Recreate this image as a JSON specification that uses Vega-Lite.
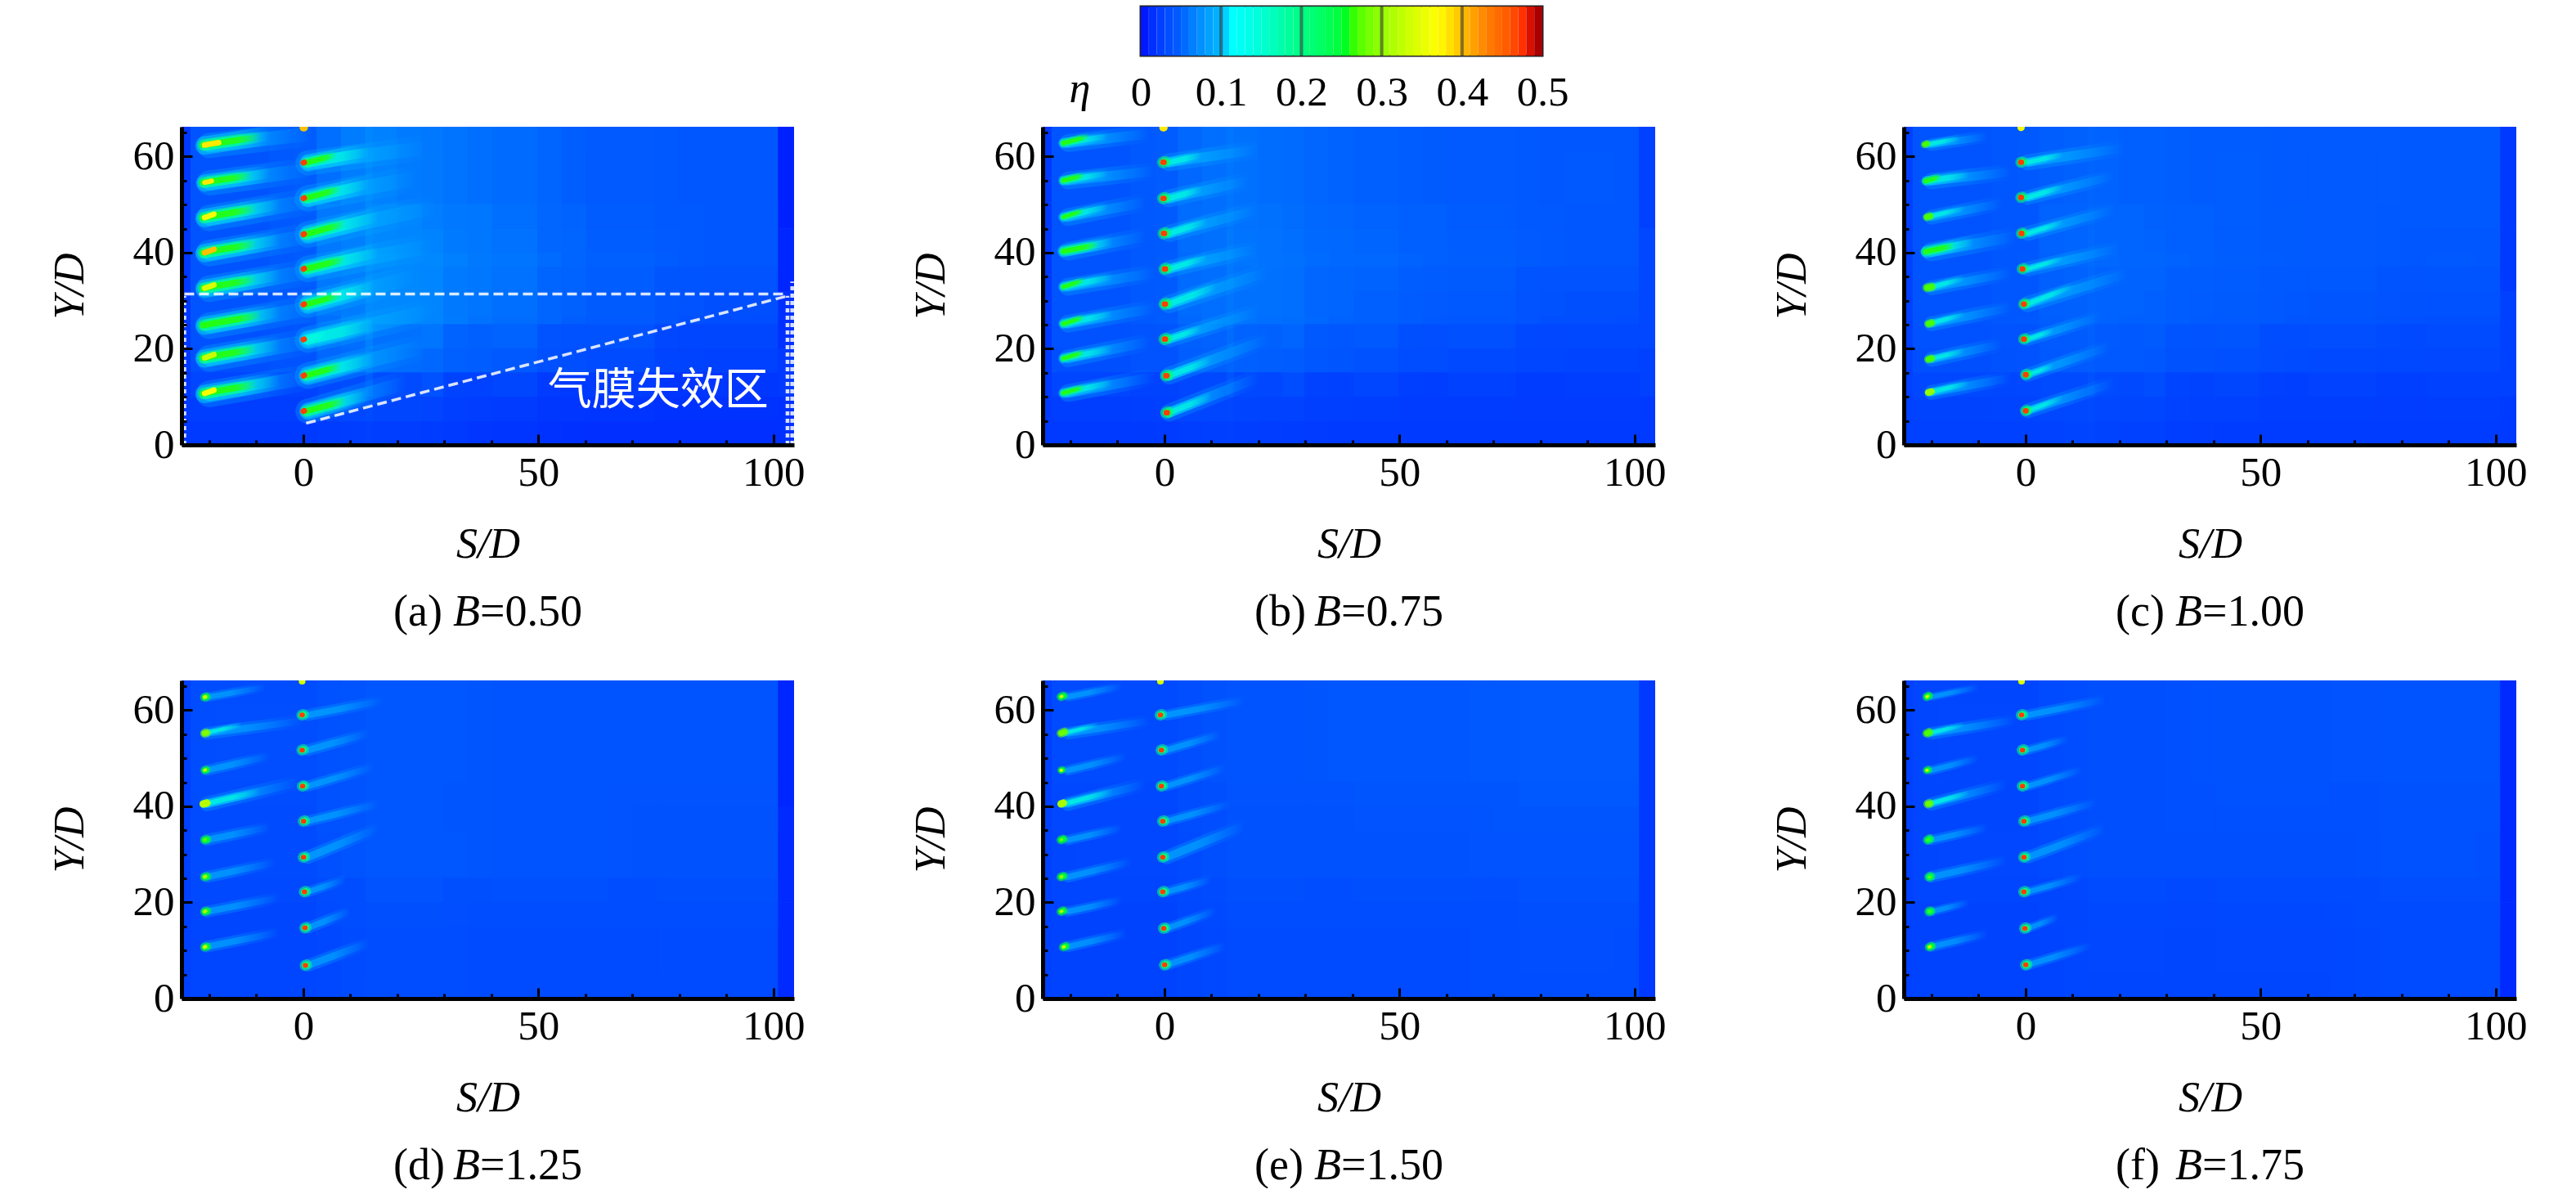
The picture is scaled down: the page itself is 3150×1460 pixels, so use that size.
{
"$schema":"https://vega.github.io/schema/vega-lite/v6.json",
"background":"white",
"padding":{"left":59,"top":4,"right":0,"bottom":0},
"config":{"font":"Liberation Serif","view":{"stroke":null},"axis":{"labelFont":"Liberation Serif","titleFont":"Liberation Serif"}},
"bounds":"flush",
"spacing":147,
"vconcat":[
{"hconcat":[
{"width":1173,"height":10,"data":{"values":[]},"mark":"rect"},
{"width":491,"height":60,"view":{"stroke":"#222222","strokeWidth":3},
"layer":[
{"data":{"values":[
{"a":0,"b":0.01,"e":0.005},{"a":0.01,"b":0.02,"e":0.015},{"a":0.02,"b":0.03,"e":0.025},{"a":0.03,"b":0.04,"e":0.035},{"a":0.04,"b":0.05,"e":0.045},
{"a":0.05,"b":0.06,"e":0.055},{"a":0.06,"b":0.07,"e":0.065},{"a":0.07,"b":0.08,"e":0.075},{"a":0.08,"b":0.09,"e":0.085},{"a":0.09,"b":0.1,"e":0.095},
{"a":0.1,"b":0.11,"e":0.105},{"a":0.11,"b":0.12,"e":0.115},{"a":0.12,"b":0.13,"e":0.125},{"a":0.13,"b":0.14,"e":0.135},{"a":0.14,"b":0.15,"e":0.145},
{"a":0.15,"b":0.16,"e":0.155},{"a":0.16,"b":0.17,"e":0.165},{"a":0.17,"b":0.18,"e":0.175},{"a":0.18,"b":0.19,"e":0.185},{"a":0.19,"b":0.2,"e":0.195},
{"a":0.2,"b":0.21,"e":0.205},{"a":0.21,"b":0.22,"e":0.215},{"a":0.22,"b":0.23,"e":0.225},{"a":0.23,"b":0.24,"e":0.235},{"a":0.24,"b":0.25,"e":0.245},
{"a":0.25,"b":0.26,"e":0.255},{"a":0.26,"b":0.27,"e":0.265},{"a":0.27,"b":0.28,"e":0.275},{"a":0.28,"b":0.29,"e":0.285},{"a":0.29,"b":0.3,"e":0.295},
{"a":0.3,"b":0.31,"e":0.305},{"a":0.31,"b":0.32,"e":0.315},{"a":0.32,"b":0.33,"e":0.325},{"a":0.33,"b":0.34,"e":0.335},{"a":0.34,"b":0.35,"e":0.345},
{"a":0.35,"b":0.36,"e":0.355},{"a":0.36,"b":0.37,"e":0.365},{"a":0.37,"b":0.38,"e":0.375},{"a":0.38,"b":0.39,"e":0.385},{"a":0.39,"b":0.4,"e":0.395},
{"a":0.4,"b":0.41,"e":0.405},{"a":0.41,"b":0.42,"e":0.415},{"a":0.42,"b":0.43,"e":0.425},{"a":0.43,"b":0.44,"e":0.435},{"a":0.44,"b":0.45,"e":0.445},
{"a":0.45,"b":0.46,"e":0.455},{"a":0.46,"b":0.47,"e":0.465},{"a":0.47,"b":0.48,"e":0.475},{"a":0.48,"b":0.49,"e":0.485},{"a":0.49,"b":0.5,"e":0.495}
]},
"mark":{"type":"rect","stroke":null},
"encoding":{
"x":{"field":"a","type":"quantitative","scale":{"domain":[0,0.5],"nice":false},
"axis":{"values":[0,0.1,0.2,0.3,0.4,0.5],"format":".1~f","domain":false,"ticks":false,"grid":false,"labelFontSize":51,"labelColor":"black","labelPadding":20,"labelFlush":false,"labelOverlap":false,"labelBound":false,"title":"η","titleFontSize":52,"titleFontStyle":"italic","titleFontWeight":"normal","titleColor":"black","titleX":-75,"titleY":56,"titleBaseline":"alphabetic","titleAlign":"center"}},
"x2":{"field":"b"},
"color":{"field":"e","type":"quantitative","legend":null,"scale":{"domain":[0,0.05,0.1,0.115,0.19,0.26,0.37,0.43,0.48,0.49,0.5],"range":["#0000ff","#0060ff","#00b8ff","#00ffff","#00ff90","#00ff00","#ffff00","#ff8000","#ff2000","#b00000","#a00000"]}}
}},
{"data":{"values":[{"a":0.1},{"a":0.2},{"a":0.3},{"a":0.4}]},
"mark":{"type":"rule","color":"#333333","opacity":0.6,"strokeWidth":4},
"encoding":{"x":{"field":"a","type":"quantitative"}}}
]}
],"spacing":0,"bounds":"flush"},
{"data":{"values":[
{"p":"a","t":"(a)","v":"=0.50"},{"p":"b","t":"(b)","v":"=0.75"},{"p":"c","t":"(c)","v":"=1.00"},{"p":"d","t":"(d)","v":"=1.25"},{"p":"e","t":"(e)","v":"=1.50"},{"p":"f","t":"(f)","v":"=1.75"},
{"p":"a","n":"气膜失效区","s":75.5,"y":11},
{"p":"a","d":1,"s":-25.3,"y":31.4,"s2":103,"y2":31.4},
{"p":"a","d":1,"s":0.6,"y":4.5,"s2":103,"y2":31},
{"p":"a","d":2,"s":-25.3,"y":0,"s2":-25.3,"y2":31},
{"p":"a","d":2,"s":103,"y":0,"s2":103,"y2":31},
{"p":"a","d":2,"s":104,"y":0,"s2":104,"y2":34},

{"p":"a","s":-26,"s2":-24,"y":45,"y2":66.2,"e":0.02},{"p":"a","s":-24,"s2":-2,"y":45,"y2":66.2,"e":0.04},{"p":"a","s":-2,"s2":8,"y":45,"y2":66.2,"e":0.05},{"p":"a","s":8,"s2":20,"y":45,"y2":66.2,"e":0.07},{"p":"a","s":20,"s2":35,"y":45,"y2":66.2,"e":0.062},{"p":"a","s":35,"s2":55,"y":45,"y2":66.2,"e":0.055},{"p":"a","s":55,"s2":80,"y":45,"y2":66.2,"e":0.045},{"p":"a","s":80,"s2":101,"y":45,"y2":66.2,"e":0.042},{"p":"a","s":101,"s2":104.4,"y":45,"y2":66.2,"e":0.008},
{"p":"a","s":-26,"s2":-24,"y":32,"y2":45,"e":0.02},{"p":"a","s":-24,"s2":-2,"y":32,"y2":45,"e":0.04},{"p":"a","s":-2,"s2":8,"y":32,"y2":45,"e":0.05},{"p":"a","s":8,"s2":20,"y":32,"y2":45,"e":0.075},{"p":"a","s":20,"s2":35,"y":32,"y2":45,"e":0.07},{"p":"a","s":35,"s2":55,"y":32,"y2":45,"e":0.06},{"p":"a","s":55,"s2":80,"y":32,"y2":45,"e":0.05},{"p":"a","s":80,"s2":101,"y":32,"y2":45,"e":0.042},{"p":"a","s":101,"s2":104.4,"y":32,"y2":45,"e":0.01},
{"p":"a","s":-26,"s2":-24,"y":20,"y2":32,"e":0.02},{"p":"a","s":-24,"s2":-2,"y":20,"y2":32,"e":0.04},{"p":"a","s":-2,"s2":8,"y":20,"y2":32,"e":0.05},{"p":"a","s":8,"s2":20,"y":20,"y2":32,"e":0.072},{"p":"a","s":20,"s2":35,"y":20,"y2":32,"e":0.068},{"p":"a","s":35,"s2":55,"y":20,"y2":32,"e":0.056},{"p":"a","s":55,"s2":80,"y":20,"y2":32,"e":0.045},{"p":"a","s":80,"s2":101,"y":20,"y2":32,"e":0.035},{"p":"a","s":101,"s2":104.4,"y":20,"y2":32,"e":0.015},
{"p":"a","s":-26,"s2":-24,"y":10,"y2":20,"e":0.02},{"p":"a","s":-24,"s2":-2,"y":10,"y2":20,"e":0.035},{"p":"a","s":-2,"s2":8,"y":10,"y2":20,"e":0.04},{"p":"a","s":8,"s2":20,"y":10,"y2":20,"e":0.058},{"p":"a","s":20,"s2":35,"y":10,"y2":20,"e":0.05},{"p":"a","s":35,"s2":55,"y":10,"y2":20,"e":0.038},{"p":"a","s":55,"s2":80,"y":10,"y2":20,"e":0.028},{"p":"a","s":80,"s2":101,"y":10,"y2":20,"e":0.022},{"p":"a","s":101,"s2":104.4,"y":10,"y2":20,"e":0.02},
{"p":"a","s":-26,"s2":-24,"y":0,"y2":10,"e":0.02},{"p":"a","s":-24,"s2":-2,"y":0,"y2":10,"e":0.02},{"p":"a","s":-2,"s2":8,"y":0,"y2":10,"e":0.02},{"p":"a","s":8,"s2":20,"y":0,"y2":10,"e":0.025},{"p":"a","s":20,"s2":35,"y":0,"y2":10,"e":0.022},{"p":"a","s":35,"s2":55,"y":0,"y2":10,"e":0.018},{"p":"a","s":55,"s2":80,"y":0,"y2":10,"e":0.015},{"p":"a","s":80,"s2":101,"y":0,"y2":10,"e":0.015},{"p":"a","s":101,"s2":104.4,"y":0,"y2":10,"e":0.015},

{"p":"b","s":-26,"s2":-24,"y":45,"y2":66.2,"e":0.02},{"p":"b","s":-24,"s2":-2,"y":45,"y2":66.2,"e":0.04},{"p":"b","s":-2,"s2":8,"y":45,"y2":66.2,"e":0.05},{"p":"b","s":8,"s2":20,"y":45,"y2":66.2,"e":0.06},{"p":"b","s":20,"s2":35,"y":45,"y2":66.2,"e":0.055},{"p":"b","s":35,"s2":55,"y":45,"y2":66.2,"e":0.05},{"p":"b","s":55,"s2":80,"y":45,"y2":66.2,"e":0.045},{"p":"b","s":80,"s2":101,"y":45,"y2":66.2,"e":0.043},{"p":"b","s":101,"s2":104.4,"y":45,"y2":66.2,"e":0.025},
{"p":"b","s":-26,"s2":-24,"y":32,"y2":45,"e":0.02},{"p":"b","s":-24,"s2":-2,"y":32,"y2":45,"e":0.04},{"p":"b","s":-2,"s2":8,"y":32,"y2":45,"e":0.05},{"p":"b","s":8,"s2":20,"y":32,"y2":45,"e":0.063},{"p":"b","s":20,"s2":35,"y":32,"y2":45,"e":0.058},{"p":"b","s":35,"s2":55,"y":32,"y2":45,"e":0.053},{"p":"b","s":55,"s2":80,"y":32,"y2":45,"e":0.048},{"p":"b","s":80,"s2":101,"y":32,"y2":45,"e":0.042},{"p":"b","s":101,"s2":104.4,"y":32,"y2":45,"e":0.03},
{"p":"b","s":-26,"s2":-24,"y":20,"y2":32,"e":0.02},{"p":"b","s":-24,"s2":-2,"y":20,"y2":32,"e":0.04},{"p":"b","s":-2,"s2":8,"y":20,"y2":32,"e":0.05},{"p":"b","s":8,"s2":20,"y":20,"y2":32,"e":0.06},{"p":"b","s":20,"s2":35,"y":20,"y2":32,"e":0.056},{"p":"b","s":35,"s2":55,"y":20,"y2":32,"e":0.05},{"p":"b","s":55,"s2":80,"y":20,"y2":32,"e":0.042},{"p":"b","s":80,"s2":101,"y":20,"y2":32,"e":0.035},{"p":"b","s":101,"s2":104.4,"y":20,"y2":32,"e":0.03},
{"p":"b","s":-26,"s2":-24,"y":10,"y2":20,"e":0.02},{"p":"b","s":-24,"s2":-2,"y":10,"y2":20,"e":0.035},{"p":"b","s":-2,"s2":8,"y":10,"y2":20,"e":0.04},{"p":"b","s":8,"s2":20,"y":10,"y2":20,"e":0.05},{"p":"b","s":20,"s2":35,"y":10,"y2":20,"e":0.043},{"p":"b","s":35,"s2":55,"y":10,"y2":20,"e":0.035},{"p":"b","s":55,"s2":80,"y":10,"y2":20,"e":0.028},{"p":"b","s":80,"s2":101,"y":10,"y2":20,"e":0.026},{"p":"b","s":101,"s2":104.4,"y":10,"y2":20,"e":0.025},
{"p":"b","s":-26,"s2":-24,"y":0,"y2":10,"e":0.02},{"p":"b","s":-24,"s2":-2,"y":0,"y2":10,"e":0.02},{"p":"b","s":-2,"s2":8,"y":0,"y2":10,"e":0.022},{"p":"b","s":8,"s2":20,"y":0,"y2":10,"e":0.025},{"p":"b","s":20,"s2":35,"y":0,"y2":10,"e":0.022},{"p":"b","s":35,"s2":55,"y":0,"y2":10,"e":0.02},{"p":"b","s":55,"s2":80,"y":0,"y2":10,"e":0.02},{"p":"b","s":80,"s2":101,"y":0,"y2":10,"e":0.02},{"p":"b","s":101,"s2":104.4,"y":0,"y2":10,"e":0.02},

{"p":"c","s":-26,"s2":-24,"y":45,"y2":66.2,"e":0.025},{"p":"c","s":-24,"s2":-2,"y":45,"y2":66.2,"e":0.04},{"p":"c","s":-2,"s2":8,"y":45,"y2":66.2,"e":0.045},{"p":"c","s":8,"s2":20,"y":45,"y2":66.2,"e":0.052},{"p":"c","s":20,"s2":35,"y":45,"y2":66.2,"e":0.05},{"p":"c","s":35,"s2":55,"y":45,"y2":66.2,"e":0.047},{"p":"c","s":55,"s2":80,"y":45,"y2":66.2,"e":0.045},{"p":"c","s":80,"s2":101,"y":45,"y2":66.2,"e":0.044},{"p":"c","s":101,"s2":104.4,"y":45,"y2":66.2,"e":0.02},
{"p":"c","s":-26,"s2":-24,"y":32,"y2":45,"e":0.025},{"p":"c","s":-24,"s2":-2,"y":32,"y2":45,"e":0.04},{"p":"c","s":-2,"s2":8,"y":32,"y2":45,"e":0.045},{"p":"c","s":8,"s2":20,"y":32,"y2":45,"e":0.055},{"p":"c","s":20,"s2":35,"y":32,"y2":45,"e":0.052},{"p":"c","s":35,"s2":55,"y":32,"y2":45,"e":0.048},{"p":"c","s":55,"s2":80,"y":32,"y2":45,"e":0.045},{"p":"c","s":80,"s2":101,"y":32,"y2":45,"e":0.043},{"p":"c","s":101,"s2":104.4,"y":32,"y2":45,"e":0.02},
{"p":"c","s":-26,"s2":-24,"y":20,"y2":32,"e":0.025},{"p":"c","s":-24,"s2":-2,"y":20,"y2":32,"e":0.04},{"p":"c","s":-2,"s2":8,"y":20,"y2":32,"e":0.045},{"p":"c","s":8,"s2":20,"y":20,"y2":32,"e":0.052},{"p":"c","s":20,"s2":35,"y":20,"y2":32,"e":0.05},{"p":"c","s":35,"s2":55,"y":20,"y2":32,"e":0.045},{"p":"c","s":55,"s2":80,"y":20,"y2":32,"e":0.04},{"p":"c","s":80,"s2":101,"y":20,"y2":32,"e":0.036},{"p":"c","s":101,"s2":104.4,"y":20,"y2":32,"e":0.025},
{"p":"c","s":-26,"s2":-24,"y":10,"y2":20,"e":0.025},{"p":"c","s":-24,"s2":-2,"y":10,"y2":20,"e":0.035},{"p":"c","s":-2,"s2":8,"y":10,"y2":20,"e":0.04},{"p":"c","s":8,"s2":20,"y":10,"y2":20,"e":0.045},{"p":"c","s":20,"s2":35,"y":10,"y2":20,"e":0.04},{"p":"c","s":35,"s2":55,"y":10,"y2":20,"e":0.035},{"p":"c","s":55,"s2":80,"y":10,"y2":20,"e":0.03},{"p":"c","s":80,"s2":101,"y":10,"y2":20,"e":0.028},{"p":"c","s":101,"s2":104.4,"y":10,"y2":20,"e":0.025},
{"p":"c","s":-26,"s2":-24,"y":0,"y2":10,"e":0.025},{"p":"c","s":-24,"s2":-2,"y":0,"y2":10,"e":0.025},{"p":"c","s":-2,"s2":8,"y":0,"y2":10,"e":0.025},{"p":"c","s":8,"s2":20,"y":0,"y2":10,"e":0.028},{"p":"c","s":20,"s2":35,"y":0,"y2":10,"e":0.025},{"p":"c","s":35,"s2":55,"y":0,"y2":10,"e":0.022},{"p":"c","s":55,"s2":80,"y":0,"y2":10,"e":0.022},{"p":"c","s":80,"s2":101,"y":0,"y2":10,"e":0.022},{"p":"c","s":101,"s2":104.4,"y":0,"y2":10,"e":0.02},

{"p":"d","s":-26,"s2":-24,"y":40,"y2":66.2,"e":0.025},{"p":"d","s":-24,"s2":8,"y":40,"y2":66.2,"e":0.035},{"p":"d","s":8,"s2":35,"y":40,"y2":66.2,"e":0.042},{"p":"d","s":35,"s2":70,"y":40,"y2":66.2,"e":0.04},{"p":"d","s":70,"s2":101,"y":40,"y2":66.2,"e":0.04},{"p":"d","s":101,"s2":104.4,"y":40,"y2":66.2,"e":0.01},
{"p":"d","s":-26,"s2":-24,"y":20,"y2":40,"e":0.025},{"p":"d","s":-24,"s2":8,"y":20,"y2":40,"e":0.033},{"p":"d","s":8,"s2":35,"y":20,"y2":40,"e":0.042},{"p":"d","s":35,"s2":70,"y":20,"y2":40,"e":0.04},{"p":"d","s":70,"s2":101,"y":20,"y2":40,"e":0.038},{"p":"d","s":101,"s2":104.4,"y":20,"y2":40,"e":0.012},
{"p":"d","s":-26,"s2":-24,"y":0,"y2":20,"e":0.025},{"p":"d","s":-24,"s2":8,"y":0,"y2":20,"e":0.028},{"p":"d","s":8,"s2":35,"y":0,"y2":20,"e":0.034},{"p":"d","s":35,"s2":70,"y":0,"y2":20,"e":0.032},{"p":"d","s":70,"s2":101,"y":0,"y2":20,"e":0.032},{"p":"d","s":101,"s2":104.4,"y":0,"y2":20,"e":0.012},

{"p":"e","s":-26,"s2":-24,"y":40,"y2":66.2,"e":0.025},{"p":"e","s":-24,"s2":8,"y":40,"y2":66.2,"e":0.032},{"p":"e","s":8,"s2":35,"y":40,"y2":66.2,"e":0.04},{"p":"e","s":35,"s2":70,"y":40,"y2":66.2,"e":0.042},{"p":"e","s":70,"s2":101,"y":40,"y2":66.2,"e":0.045},{"p":"e","s":101,"s2":104.4,"y":40,"y2":66.2,"e":0.02},
{"p":"e","s":-26,"s2":-24,"y":20,"y2":40,"e":0.025},{"p":"e","s":-24,"s2":8,"y":20,"y2":40,"e":0.03},{"p":"e","s":8,"s2":35,"y":20,"y2":40,"e":0.038},{"p":"e","s":35,"s2":70,"y":20,"y2":40,"e":0.038},{"p":"e","s":70,"s2":101,"y":20,"y2":40,"e":0.04},{"p":"e","s":101,"s2":104.4,"y":20,"y2":40,"e":0.02},
{"p":"e","s":-26,"s2":-24,"y":0,"y2":20,"e":0.025},{"p":"e","s":-24,"s2":8,"y":0,"y2":20,"e":0.027},{"p":"e","s":8,"s2":35,"y":0,"y2":20,"e":0.032},{"p":"e","s":35,"s2":70,"y":0,"y2":20,"e":0.033},{"p":"e","s":70,"s2":101,"y":0,"y2":20,"e":0.035},{"p":"e","s":101,"s2":104.4,"y":0,"y2":20,"e":0.02},

{"p":"f","s":-26,"s2":-24,"y":40,"y2":66.2,"e":0.025},{"p":"f","s":-24,"s2":8,"y":40,"y2":66.2,"e":0.03},{"p":"f","s":8,"s2":35,"y":40,"y2":66.2,"e":0.036},{"p":"f","s":35,"s2":70,"y":40,"y2":66.2,"e":0.038},{"p":"f","s":70,"s2":101,"y":40,"y2":66.2,"e":0.04},{"p":"f","s":101,"s2":104.4,"y":40,"y2":66.2,"e":0.012},
{"p":"f","s":-26,"s2":-24,"y":20,"y2":40,"e":0.025},{"p":"f","s":-24,"s2":8,"y":20,"y2":40,"e":0.03},{"p":"f","s":8,"s2":35,"y":20,"y2":40,"e":0.036},{"p":"f","s":35,"s2":70,"y":20,"y2":40,"e":0.036},{"p":"f","s":70,"s2":101,"y":20,"y2":40,"e":0.037},{"p":"f","s":101,"s2":104.4,"y":20,"y2":40,"e":0.012},
{"p":"f","s":-26,"s2":-24,"y":0,"y2":20,"e":0.025},{"p":"f","s":-24,"s2":8,"y":0,"y2":20,"e":0.027},{"p":"f","s":8,"s2":35,"y":0,"y2":20,"e":0.03},{"p":"f","s":35,"s2":70,"y":0,"y2":20,"e":0.03},{"p":"f","s":70,"s2":101,"y":0,"y2":20,"e":0.032},{"p":"f","s":101,"s2":104.4,"y":0,"y2":20,"e":0.012},

{"p":"a","s":-20,"y":10.6,"s2":3,"y2":14.4,"e":0.085,"w":3.6},{"p":"a","s":-21,"y":10.6,"s2":-5,"y2":13.4,"e":0.125,"w":2.8},{"p":"a","s":-21.3,"y":10.7,"s2":-10,"y2":12.6,"e":0.25,"w":1.9},{"p":"a","s":-21,"y":10.7,"s2":-19,"y2":11.4,"e":0.37,"w":0.9},
{"p":"a","s":-20,"y":18,"s2":3,"y2":21.8,"e":0.085,"w":3.6},{"p":"a","s":-21,"y":18,"s2":-5,"y2":20.8,"e":0.125,"w":2.8},{"p":"a","s":-21.3,"y":18.1,"s2":-10,"y2":20,"e":0.25,"w":1.9},{"p":"a","s":-21,"y":18.1,"s2":-19,"y2":18.8,"e":0.33,"w":0.9},
{"p":"a","s":-20,"y":24.8,"s2":3,"y2":28.6,"e":0.085,"w":3.6},{"p":"a","s":-21,"y":24.8,"s2":-5,"y2":27.6,"e":0.125,"w":2.8},{"p":"a","s":-21.3,"y":24.9,"s2":-9,"y2":27,"e":0.24,"w":1.9},
{"p":"a","s":-20,"y":32.5,"s2":3,"y2":36.3,"e":0.085,"w":3.6},{"p":"a","s":-21,"y":32.5,"s2":-5,"y2":35.3,"e":0.125,"w":2.8},{"p":"a","s":-21.3,"y":32.6,"s2":-10,"y2":34.5,"e":0.25,"w":1.9},{"p":"a","s":-21,"y":32.6,"s2":-19,"y2":33.3,"e":0.34,"w":0.9},
{"p":"a","s":-20,"y":39.9,"s2":3,"y2":43.7,"e":0.085,"w":3.6},{"p":"a","s":-21,"y":39.9,"s2":-5,"y2":42.7,"e":0.125,"w":2.8},{"p":"a","s":-21.3,"y":40,"s2":-10,"y2":41.9,"e":0.25,"w":1.9},{"p":"a","s":-21,"y":40,"s2":-19,"y2":40.7,"e":0.4,"w":0.9},
{"p":"a","s":-20,"y":47.2,"s2":3,"y2":51,"e":0.085,"w":3.6},{"p":"a","s":-21,"y":47.2,"s2":-5,"y2":50,"e":0.125,"w":2.8},{"p":"a","s":-21.3,"y":47.3,"s2":-10,"y2":49.2,"e":0.25,"w":1.9},{"p":"a","s":-21,"y":47.3,"s2":-19,"y2":48,"e":0.36,"w":0.9},
{"p":"a","s":-20,"y":54.5,"s2":2,"y2":57.3,"e":0.085,"w":3.4},{"p":"a","s":-21,"y":54.5,"s2":-7,"y2":56.5,"e":0.125,"w":2.6},{"p":"a","s":-21.3,"y":54.6,"s2":-11,"y2":56.1,"e":0.24,"w":1.8},{"p":"a","s":-21,"y":54.6,"s2":-19.5,"y2":54.9,"e":0.38,"w":0.8},
{"p":"a","s":-20,"y":62.3,"s2":2,"y2":64.8,"e":0.085,"w":3.4},{"p":"a","s":-21,"y":62.3,"s2":-7,"y2":64.4,"e":0.125,"w":2.8},{"p":"a","s":-21.3,"y":62.4,"s2":-9,"y2":64.1,"e":0.26,"w":1.9},{"p":"a","s":-21,"y":62.4,"s2":-18,"y2":62.9,"e":0.38,"w":0.9},
{"p":"a","s":1,"y":7,"s2":22,"y2":13,"e":0.085,"w":3.4},{"p":"a","s":1,"y":7,"s2":14,"y2":10.5,"e":0.125,"w":2.6},{"p":"a","s":0.5,"y":7,"s2":9,"y2":9.2,"e":0.2,"w":1.8},{"p":"a","s":0,"y":7,"s2":0.2,"y2":7.1,"e":0.47,"w":0.9},
{"p":"a","s":1,"y":14.4,"s2":26,"y2":20.5,"e":0.085,"w":3.6},{"p":"a","s":1,"y":14.4,"s2":15,"y2":17.9,"e":0.115,"w":2.8},{"p":"a","s":0.5,"y":14.4,"s2":8,"y2":16.4,"e":0.2,"w":1.7},{"p":"a","s":0,"y":14.4,"s2":0.2,"y2":14.5,"e":0.47,"w":0.9},
{"p":"a","s":1,"y":21.9,"s2":28,"y2":28,"e":0.085,"w":3.6},{"p":"a","s":1,"y":21.9,"s2":15,"y2":25.1,"e":0.11,"w":2.8},{"p":"a","s":0.5,"y":21.9,"s2":5,"y2":23.1,"e":0.18,"w":1.4},{"p":"a","s":0,"y":21.9,"s2":0.2,"y2":22,"e":0.47,"w":0.9},
{"p":"a","s":1,"y":29.2,"s2":24,"y2":35,"e":0.085,"w":3.6},{"p":"a","s":1,"y":29.2,"s2":15,"y2":32.9,"e":0.125,"w":2.8},{"p":"a","s":0.5,"y":29.2,"s2":8,"y2":31.2,"e":0.22,"w":1.7},{"p":"a","s":0,"y":29.2,"s2":0.2,"y2":29.3,"e":0.47,"w":0.9},
{"p":"a","s":1,"y":36.6,"s2":28,"y2":41.5,"e":0.085,"w":3.6},{"p":"a","s":1,"y":36.6,"s2":16,"y2":40.1,"e":0.125,"w":2.8},{"p":"a","s":0.5,"y":36.6,"s2":9,"y2":38.7,"e":0.22,"w":1.8},{"p":"a","s":0,"y":36.6,"s2":0.2,"y2":36.7,"e":0.47,"w":0.9},
{"p":"a","s":1,"y":43.8,"s2":28,"y2":49.5,"e":0.085,"w":3.6},{"p":"a","s":1,"y":43.8,"s2":16,"y2":47.5,"e":0.125,"w":2.8},{"p":"a","s":0.5,"y":43.8,"s2":9,"y2":46.1,"e":0.22,"w":1.8},{"p":"a","s":0,"y":43.8,"s2":0.2,"y2":43.9,"e":0.47,"w":0.9},
{"p":"a","s":1,"y":51.3,"s2":24,"y2":55.5,"e":0.085,"w":3.6},{"p":"a","s":1,"y":51.3,"s2":14,"y2":54.3,"e":0.125,"w":2.7},{"p":"a","s":0.5,"y":51.3,"s2":8,"y2":53.3,"e":0.22,"w":1.7},{"p":"a","s":0,"y":51.3,"s2":0.2,"y2":51.4,"e":0.47,"w":0.9},
{"p":"a","s":1,"y":58.7,"s2":26,"y2":61.8,"e":0.085,"w":3.4},{"p":"a","s":1,"y":58.7,"s2":14,"y2":61,"e":0.125,"w":2.6},{"p":"a","s":0.5,"y":58.7,"s2":7,"y2":60.3,"e":0.22,"w":1.6},{"p":"a","s":0,"y":58.7,"s2":0.2,"y2":58.8,"e":0.47,"w":0.9},
{"p":"a","s":0,"y":66,"s2":0.2,"y2":66,"e":0.4,"w":1.2},

{"p":"b","s":-20.5,"y":10.8,"s2":-2,"y2":14.2,"e":0.08,"w":2.4},{"p":"b","s":-21.5,"y":10.8,"s2":-11,"y2":13,"e":0.125,"w":1.5},{"p":"b","s":-21.5,"y":10.8,"s2":-17,"y2":12,"e":0.26,"w":1.2},
{"p":"b","s":-20.5,"y":18,"s2":-3,"y2":21.5,"e":0.08,"w":2.4},{"p":"b","s":-21.5,"y":18,"s2":-11,"y2":20,"e":0.125,"w":1.5},{"p":"b","s":-21.5,"y":18,"s2":-17,"y2":19.3,"e":0.24,"w":1.2},
{"p":"b","s":-20.5,"y":25.2,"s2":-2,"y2":28.5,"e":0.08,"w":2.4},{"p":"b","s":-21.5,"y":25.2,"s2":-11,"y2":27.3,"e":0.125,"w":1.5},{"p":"b","s":-21.5,"y":25.2,"s2":-17,"y2":26.6,"e":0.24,"w":1.2},
{"p":"b","s":-20.5,"y":32.9,"s2":-2,"y2":35.8,"e":0.08,"w":2.4},{"p":"b","s":-21.5,"y":32.9,"s2":-11,"y2":35,"e":0.125,"w":1.5},{"p":"b","s":-21.5,"y":32.9,"s2":-17,"y2":34.3,"e":0.24,"w":1.2},
{"p":"b","s":-20.5,"y":40.3,"s2":-4,"y2":43.4,"e":0.09,"w":2.5},{"p":"b","s":-21.5,"y":40.3,"s2":-11,"y2":42.3,"e":0.14,"w":1.8},{"p":"b","s":-21.5,"y":40.3,"s2":-14,"y2":41.7,"e":0.28,"w":1.5},
{"p":"b","s":-20.5,"y":47.4,"s2":-4,"y2":50.5,"e":0.08,"w":2.4},{"p":"b","s":-21.5,"y":47.4,"s2":-12,"y2":49.6,"e":0.125,"w":1.5},{"p":"b","s":-21.5,"y":47.4,"s2":-17,"y2":48.8,"e":0.26,"w":1.1},
{"p":"b","s":-20.5,"y":55,"s2":-2,"y2":57,"e":0.085,"w":2.4},{"p":"b","s":-21.5,"y":55,"s2":-12,"y2":56.5,"e":0.125,"w":1.5},{"p":"b","s":-21.5,"y":55,"s2":-17,"y2":56.1,"e":0.26,"w":1.3},
{"p":"b","s":-20.5,"y":62.8,"s2":-3,"y2":64.8,"e":0.085,"w":2.4},{"p":"b","s":-21.5,"y":62.8,"s2":-12,"y2":64.2,"e":0.125,"w":1.5},{"p":"b","s":-21.5,"y":62.8,"s2":-16,"y2":64.2,"e":0.26,"w":1.3},
{"p":"b","s":1,"y":6.7,"s2":20,"y2":14,"e":0.08,"w":2.4},{"p":"b","s":1,"y":6.7,"s2":10,"y2":10.2,"e":0.125,"w":1.5},{"p":"b","s":0.4,"y":6.7,"s2":0.8,"y2":6.8,"e":0.22,"w":1.6},{"p":"b","s":0.4,"y":6.7,"s2":0.6,"y2":6.7,"e":0.47,"w":0.9},
{"p":"b","s":1,"y":14.4,"s2":22,"y2":22,"e":0.08,"w":2.4},{"p":"b","s":1,"y":14.4,"s2":10,"y2":17.7,"e":0.125,"w":1.5},{"p":"b","s":0.3,"y":14.4,"s2":0.7,"y2":14.5,"e":0.22,"w":1.6},{"p":"b","s":0.3,"y":14.4,"s2":0.5,"y2":14.4,"e":0.47,"w":0.9},
{"p":"b","s":1,"y":22,"s2":20,"y2":27.8,"e":0.08,"w":2.2},{"p":"b","s":1,"y":22,"s2":8,"y2":24.3,"e":0.115,"w":1.3},{"p":"b","s":0,"y":22,"s2":0.4,"y2":22.1,"e":0.22,"w":1.6},{"p":"b","s":0,"y":22,"s2":0.2,"y2":22,"e":0.47,"w":0.9},
{"p":"b","s":1,"y":29.3,"s2":22,"y2":36,"e":0.085,"w":2.5},{"p":"b","s":1,"y":29.3,"s2":11,"y2":33,"e":0.125,"w":1.6},{"p":"b","s":0,"y":29.3,"s2":0.4,"y2":29.4,"e":0.22,"w":1.6},{"p":"b","s":0,"y":29.3,"s2":0.2,"y2":29.3,"e":0.47,"w":0.9},
{"p":"b","s":1,"y":36.6,"s2":20,"y2":41,"e":0.08,"w":2.3},{"p":"b","s":1,"y":36.6,"s2":9,"y2":39,"e":0.125,"w":1.4},{"p":"b","s":0,"y":36.6,"s2":0.4,"y2":36.7,"e":0.22,"w":1.6},{"p":"b","s":0,"y":36.6,"s2":0.2,"y2":36.6,"e":0.47,"w":0.9},
{"p":"b","s":1,"y":44,"s2":20,"y2":49,"e":0.08,"w":2.3},{"p":"b","s":1,"y":44,"s2":9,"y2":46.5,"e":0.125,"w":1.5},{"p":"b","s":-0.2,"y":44,"s2":0.2,"y2":44.1,"e":0.22,"w":1.6},{"p":"b","s":-0.2,"y":44,"s2":0,"y2":44,"e":0.47,"w":0.9},
{"p":"b","s":1,"y":51.3,"s2":18,"y2":55,"e":0.08,"w":2.4},{"p":"b","s":1,"y":51.3,"s2":8,"y2":53.2,"e":0.13,"w":1.5},{"p":"b","s":-0.3,"y":51.3,"s2":0.1,"y2":51.4,"e":0.22,"w":1.6},{"p":"b","s":-0.3,"y":51.3,"s2":-0.1,"y2":51.3,"e":0.47,"w":0.9},
{"p":"b","s":1,"y":58.8,"s2":20,"y2":61.5,"e":0.08,"w":2.4},{"p":"b","s":1,"y":58.8,"s2":8,"y2":60.3,"e":0.125,"w":1.5},{"p":"b","s":-0.3,"y":58.8,"s2":0.1,"y2":58.9,"e":0.22,"w":1.6},{"p":"b","s":-0.3,"y":58.8,"s2":-0.1,"y2":58.8,"e":0.47,"w":0.9},
{"p":"b","s":-0.3,"y":66,"s2":-0.1,"y2":66,"e":0.38,"w":1.2},

{"p":"c","s":-20,"y":10.9,"s2":-3,"y2":14,"e":0.075,"w":2},{"p":"c","s":-20.5,"y":10.9,"s2":-12,"y2":12.9,"e":0.115,"w":1.2},{"p":"c","s":-20.7,"y":10.9,"s2":-20,"y2":11.1,"e":0.3,"w":1.1},
{"p":"c","s":-20,"y":17.8,"s2":-5,"y2":21,"e":0.07,"w":2},{"p":"c","s":-20.5,"y":17.8,"s2":-13,"y2":19.6,"e":0.105,"w":1.1},{"p":"c","s":-20.7,"y":17.8,"s2":-20,"y2":18,"e":0.27,"w":1.1},
{"p":"c","s":-20,"y":25.2,"s2":-3,"y2":28.6,"e":0.075,"w":2},{"p":"c","s":-20.5,"y":25.2,"s2":-13,"y2":27.2,"e":0.11,"w":1.1},{"p":"c","s":-20.7,"y":25.2,"s2":-20,"y2":25.4,"e":0.27,"w":1.1},
{"p":"c","s":-20,"y":32.7,"s2":-3,"y2":35.8,"e":0.075,"w":2},{"p":"c","s":-20.5,"y":32.7,"s2":-13,"y2":34.7,"e":0.11,"w":1.2},{"p":"c","s":-21,"y":32.7,"s2":-20,"y2":32.9,"e":0.27,"w":1.2},
{"p":"c","s":-20,"y":40.2,"s2":-2,"y2":43.4,"e":0.09,"w":2.6},{"p":"c","s":-21,"y":40.2,"s2":-11,"y2":42.3,"e":0.13,"w":1.9},{"p":"c","s":-21.3,"y":40.2,"s2":-15,"y2":41.5,"e":0.27,"w":1.5},
{"p":"c","s":-20,"y":47.4,"s2":-5,"y2":50.3,"e":0.07,"w":2},{"p":"c","s":-21,"y":47.4,"s2":-13,"y2":49.2,"e":0.115,"w":1.1},{"p":"c","s":-21,"y":47.4,"s2":-20.3,"y2":47.6,"e":0.27,"w":1.1},
{"p":"c","s":-20,"y":54.9,"s2":-3,"y2":56.8,"e":0.085,"w":2.2},{"p":"c","s":-21,"y":54.9,"s2":-12,"y2":56.2,"e":0.125,"w":1.5},{"p":"c","s":-21.3,"y":54.9,"s2":-18,"y2":55.8,"e":0.27,"w":1.3},
{"p":"c","s":-20,"y":62.5,"s2":-8,"y2":64.2,"e":0.075,"w":1.7},{"p":"c","s":-21,"y":62.5,"s2":-14,"y2":63.8,"e":0.115,"w":1.1},{"p":"c","s":-21.5,"y":62.5,"s2":-21,"y2":62.7,"e":0.27,"w":1},
{"p":"c","s":0.5,"y":7.1,"s2":19,"y2":13,"e":0.075,"w":2},{"p":"c","s":0.5,"y":7.1,"s2":8,"y2":9.8,"e":0.12,"w":1.1},{"p":"c","s":0,"y":7.1,"s2":0.3,"y2":7.2,"e":0.22,"w":1.5},{"p":"c","s":0,"y":7.1,"s2":0.1,"y2":7.1,"e":0.47,"w":0.9},
{"p":"c","s":0.5,"y":14.6,"s2":18,"y2":20.5,"e":0.07,"w":1.9},{"p":"c","s":0.5,"y":14.6,"s2":6,"y2":16.5,"e":0.105,"w":1},{"p":"c","s":0,"y":14.6,"s2":0.3,"y2":14.7,"e":0.22,"w":1.5},{"p":"c","s":0,"y":14.6,"s2":0.1,"y2":14.6,"e":0.47,"w":0.9},
{"p":"c","s":0.5,"y":22,"s2":16,"y2":26.7,"e":0.07,"w":1.8},{"p":"c","s":0.5,"y":22,"s2":6,"y2":23.8,"e":0.11,"w":1},{"p":"c","s":-0.4,"y":22,"s2":-0.1,"y2":22.1,"e":0.22,"w":1.5},{"p":"c","s":-0.4,"y":22,"s2":-0.3,"y2":22,"e":0.47,"w":0.9},
{"p":"c","s":0.5,"y":29.3,"s2":22,"y2":35.8,"e":0.08,"w":2.2},{"p":"c","s":0.5,"y":29.3,"s2":10,"y2":33,"e":0.125,"w":1.2},{"p":"c","s":-0.4,"y":29.3,"s2":-0.1,"y2":29.4,"e":0.22,"w":1.5},{"p":"c","s":-0.4,"y":29.3,"s2":-0.3,"y2":29.3,"e":0.47,"w":0.9},
{"p":"c","s":0.5,"y":36.6,"s2":20,"y2":41,"e":0.07,"w":2},{"p":"c","s":0.5,"y":36.6,"s2":8,"y2":38.8,"e":0.115,"w":1},{"p":"c","s":-0.7,"y":36.6,"s2":-0.4,"y2":36.7,"e":0.22,"w":1.5},{"p":"c","s":-0.7,"y":36.6,"s2":-0.6,"y2":36.6,"e":0.47,"w":0.9},
{"p":"c","s":0.5,"y":44,"s2":19,"y2":49,"e":0.07,"w":2},{"p":"c","s":0.5,"y":44,"s2":8,"y2":46.3,"e":0.115,"w":1.1},{"p":"c","s":-0.9,"y":44,"s2":-0.6,"y2":44.1,"e":0.22,"w":1.5},{"p":"c","s":-0.9,"y":44,"s2":-0.8,"y2":44,"e":0.47,"w":0.9},
{"p":"c","s":0.5,"y":51.5,"s2":19,"y2":56,"e":0.075,"w":2},{"p":"c","s":0.5,"y":51.5,"s2":8,"y2":53.7,"e":0.125,"w":1.2},{"p":"c","s":-1,"y":51.5,"s2":-0.7,"y2":51.6,"e":0.22,"w":1.5},{"p":"c","s":-1,"y":51.5,"s2":-0.9,"y2":51.5,"e":0.47,"w":0.9},
{"p":"c","s":0.5,"y":58.8,"s2":21,"y2":61.8,"e":0.08,"w":2.2},{"p":"c","s":0.5,"y":58.8,"s2":8,"y2":60.4,"e":0.13,"w":1.2},{"p":"c","s":-1,"y":58.8,"s2":-0.7,"y2":58.9,"e":0.22,"w":1.5},{"p":"c","s":-1,"y":58.8,"s2":-0.9,"y2":58.8,"e":0.47,"w":0.9},
{"p":"c","s":-1,"y":66,"s2":-0.9,"y2":66,"e":0.36,"w":1.1},

{"p":"d","s":-20.5,"y":10.8,"s2":-5,"y2":13.8,"e":0.072,"w":1.6},{"p":"d","s":-21,"y":10.7,"s2":-20.5,"y2":10.8,"e":0.25,"w":1.2},{"p":"d","s":-21,"y":10.7,"s2":-20.8,"y2":10.8,"e":0.33,"w":0.6},
{"p":"d","s":-20.5,"y":18.1,"s2":-5,"y2":21,"e":0.068,"w":1.6},{"p":"d","s":-21,"y":18.1,"s2":-20.5,"y2":18.2,"e":0.25,"w":1.2},{"p":"d","s":-21,"y":18.1,"s2":-20.8,"y2":18.2,"e":0.31,"w":0.6},
{"p":"d","s":-20.5,"y":25.3,"s2":-6,"y2":28.3,"e":0.078,"w":1.6},{"p":"d","s":-21,"y":25.3,"s2":-20.5,"y2":25.4,"e":0.25,"w":1.2},{"p":"d","s":-21,"y":25.3,"s2":-20.8,"y2":25.4,"e":0.31,"w":0.6},
{"p":"d","s":-20.5,"y":33,"s2":-7,"y2":35.7,"e":0.078,"w":1.6},{"p":"d","s":-21,"y":33,"s2":-20.5,"y2":33.1,"e":0.25,"w":1.2},{"p":"d","s":-21,"y":33,"s2":-20.8,"y2":33.1,"e":0.28,"w":0.6},
{"p":"d","s":-20.5,"y":40.5,"s2":-1,"y2":45,"e":0.09,"w":2},{"p":"d","s":-21,"y":40.5,"s2":-9,"y2":43.2,"e":0.14,"w":1.3},{"p":"d","s":-21.3,"y":40.5,"s2":-20.5,"y2":40.7,"e":0.32,"w":1.2},
{"p":"d","s":-20.5,"y":47.5,"s2":-7,"y2":50.5,"e":0.075,"w":1.5},{"p":"d","s":-21,"y":47.5,"s2":-20.6,"y2":47.6,"e":0.25,"w":1.1},{"p":"d","s":-21,"y":47.5,"s2":-20.8,"y2":47.6,"e":0.33,"w":0.5},
{"p":"d","s":-20.5,"y":55.2,"s2":0,"y2":57.8,"e":0.09,"w":1.7},{"p":"d","s":-21,"y":55.2,"s2":-13,"y2":57,"e":0.125,"w":1},{"p":"d","s":-21,"y":55.2,"s2":-20.6,"y2":55.3,"e":0.29,"w":1.2},
{"p":"d","s":-20.5,"y":62.7,"s2":-8,"y2":64.8,"e":0.085,"w":1.3},{"p":"d","s":-21,"y":62.7,"s2":-20.6,"y2":62.8,"e":0.25,"w":1.2},{"p":"d","s":-21,"y":62.7,"s2":-20.8,"y2":62.8,"e":0.33,"w":0.6},
{"p":"d","s":1,"y":6.9,"s2":14,"y2":11.6,"e":0.09,"w":1.7},{"p":"d","s":0.4,"y":6.9,"s2":0.7,"y2":7,"e":0.2,"w":1.5},{"p":"d","s":0.4,"y":6.9,"s2":0.5,"y2":6.9,"e":0.47,"w":0.8},
{"p":"d","s":1,"y":14.7,"s2":10,"y2":18.2,"e":0.075,"w":1.5},{"p":"d","s":0.3,"y":14.7,"s2":0.6,"y2":14.8,"e":0.2,"w":1.5},{"p":"d","s":0.3,"y":14.7,"s2":0.4,"y2":14.7,"e":0.47,"w":0.8},
{"p":"d","s":1,"y":22.2,"s2":9,"y2":24.8,"e":0.08,"w":1.4},{"p":"d","s":0.2,"y":22.2,"s2":0.5,"y2":22.3,"e":0.2,"w":1.5},{"p":"d","s":0.2,"y":22.2,"s2":0.3,"y2":22.2,"e":0.47,"w":0.8},
{"p":"d","s":1,"y":29.4,"s2":16,"y2":35.5,"e":0.095,"w":1.8},{"p":"d","s":0,"y":29.4,"s2":0.3,"y2":29.5,"e":0.2,"w":1.5},{"p":"d","s":0,"y":29.4,"s2":0.1,"y2":29.4,"e":0.47,"w":0.8},
{"p":"d","s":1,"y":36.9,"s2":16,"y2":40.5,"e":0.078,"w":1.5},{"p":"d","s":0,"y":36.9,"s2":0.3,"y2":37,"e":0.2,"w":1.5},{"p":"d","s":0,"y":36.9,"s2":0.1,"y2":36.9,"e":0.47,"w":0.8},
{"p":"d","s":1,"y":44.2,"s2":15,"y2":48.2,"e":0.078,"w":1.5},{"p":"d","s":-0.2,"y":44.2,"s2":0.1,"y2":44.3,"e":0.2,"w":1.5},{"p":"d","s":-0.2,"y":44.2,"s2":-0.1,"y2":44.2,"e":0.47,"w":0.8},
{"p":"d","s":1,"y":51.7,"s2":14,"y2":55.2,"e":0.085,"w":1.6},{"p":"d","s":-0.3,"y":51.7,"s2":0,"y2":51.8,"e":0.2,"w":1.5},{"p":"d","s":-0.3,"y":51.7,"s2":-0.2,"y2":51.7,"e":0.47,"w":0.8},
{"p":"d","s":1,"y":59,"s2":17,"y2":62,"e":0.09,"w":1.6},{"p":"d","s":-0.3,"y":59,"s2":0,"y2":59.1,"e":0.2,"w":1.5},{"p":"d","s":-0.3,"y":59,"s2":-0.2,"y2":59,"e":0.47,"w":0.8},
{"p":"d","s":-0.3,"y":66,"s2":-0.2,"y2":66,"e":0.34,"w":1},

{"p":"e","s":-20.5,"y":10.8,"s2":-8,"y2":13.6,"e":0.068,"w":1.5},{"p":"e","s":-21.5,"y":10.7,"s2":-21,"y2":10.9,"e":0.25,"w":1.2},{"p":"e","s":-21.5,"y":10.7,"s2":-21.3,"y2":10.8,"e":0.33,"w":0.5},
{"p":"e","s":-20.5,"y":18.1,"s2":-9,"y2":20.5,"e":0.062,"w":1.4},{"p":"e","s":-22,"y":18.1,"s2":-21.5,"y2":18.3,"e":0.25,"w":1.2},{"p":"e","s":-22,"y":18.1,"s2":-21.8,"y2":18.2,"e":0.32,"w":0.5},
{"p":"e","s":-20.5,"y":25.3,"s2":-7,"y2":28.5,"e":0.075,"w":1.5},{"p":"e","s":-22,"y":25.3,"s2":-21.5,"y2":25.5,"e":0.25,"w":1.2},{"p":"e","s":-22,"y":25.3,"s2":-21.8,"y2":25.4,"e":0.3,"w":0.5},
{"p":"e","s":-20.5,"y":33,"s2":-9,"y2":35.5,"e":0.072,"w":1.4},{"p":"e","s":-22,"y":33,"s2":-21.5,"y2":33.2,"e":0.25,"w":1.2},{"p":"e","s":-22,"y":33,"s2":-21.8,"y2":33.1,"e":0.29,"w":0.5},
{"p":"e","s":-20.5,"y":40.5,"s2":-4,"y2":44.7,"e":0.085,"w":1.9},{"p":"e","s":-21.5,"y":40.5,"s2":-11,"y2":43.1,"e":0.13,"w":1.2},{"p":"e","s":-22,"y":40.5,"s2":-21.5,"y2":40.7,"e":0.31,"w":1.2},
{"p":"e","s":-20.5,"y":47.5,"s2":-8,"y2":50.4,"e":0.068,"w":1.4},{"p":"e","s":-22,"y":47.5,"s2":-21.7,"y2":47.6,"e":0.25,"w":1},{"p":"e","s":-22,"y":47.5,"s2":-21.9,"y2":47.5,"e":0.34,"w":0.5},
{"p":"e","s":-20.5,"y":55.2,"s2":-3,"y2":57.8,"e":0.09,"w":1.7},{"p":"e","s":-21.5,"y":55.2,"s2":-14,"y2":57,"e":0.125,"w":1},{"p":"e","s":-22,"y":55.2,"s2":-21.3,"y2":55.5,"e":0.28,"w":1.2},
{"p":"e","s":-20.5,"y":62.8,"s2":-9,"y2":65,"e":0.078,"w":1.3},{"p":"e","s":-22,"y":62.8,"s2":-21.5,"y2":63,"e":0.25,"w":1.2},{"p":"e","s":-22,"y":62.8,"s2":-21.8,"y2":62.9,"e":0.33,"w":0.5},
{"p":"e","s":0.5,"y":7,"s2":13,"y2":11,"e":0.075,"w":1.5},{"p":"e","s":0,"y":7,"s2":0.3,"y2":7.1,"e":0.2,"w":1.5},{"p":"e","s":0,"y":7,"s2":0.1,"y2":7,"e":0.47,"w":0.8},
{"p":"e","s":0.5,"y":14.6,"s2":11,"y2":18.3,"e":0.072,"w":1.4},{"p":"e","s":-0.2,"y":14.6,"s2":0.1,"y2":14.7,"e":0.2,"w":1.5},{"p":"e","s":-0.2,"y":14.6,"s2":-0.1,"y2":14.6,"e":0.47,"w":0.8},
{"p":"e","s":0.5,"y":22.2,"s2":10,"y2":24.8,"e":0.07,"w":1.4},{"p":"e","s":-0.4,"y":22.2,"s2":-0.1,"y2":22.3,"e":0.2,"w":1.5},{"p":"e","s":-0.4,"y":22.2,"s2":-0.3,"y2":22.2,"e":0.47,"w":0.8},
{"p":"e","s":0.5,"y":29.4,"s2":17,"y2":36,"e":0.09,"w":1.9},{"p":"e","s":-0.4,"y":29.4,"s2":-0.1,"y2":29.5,"e":0.2,"w":1.5},{"p":"e","s":-0.4,"y":29.4,"s2":-0.3,"y2":29.4,"e":0.47,"w":0.8},
{"p":"e","s":0.5,"y":36.9,"s2":14,"y2":40.5,"e":0.072,"w":1.4},{"p":"e","s":-0.4,"y":36.9,"s2":-0.1,"y2":37,"e":0.2,"w":1.5},{"p":"e","s":-0.4,"y":36.9,"s2":-0.3,"y2":36.9,"e":0.47,"w":0.8},
{"p":"e","s":0.5,"y":44.2,"s2":13,"y2":48,"e":0.07,"w":1.4},{"p":"e","s":-0.7,"y":44.2,"s2":-0.4,"y2":44.3,"e":0.2,"w":1.5},{"p":"e","s":-0.7,"y":44.2,"s2":-0.6,"y2":44.2,"e":0.47,"w":0.8},
{"p":"e","s":0.5,"y":51.7,"s2":12,"y2":55,"e":0.072,"w":1.4},{"p":"e","s":-0.7,"y":51.7,"s2":-0.4,"y2":51.8,"e":0.2,"w":1.5},{"p":"e","s":-0.7,"y":51.7,"s2":-0.6,"y2":51.7,"e":0.47,"w":0.8},
{"p":"e","s":0.5,"y":59,"s2":17,"y2":62,"e":0.08,"w":1.5},{"p":"e","s":-0.9,"y":59,"s2":-0.6,"y2":59.1,"e":0.2,"w":1.5},{"p":"e","s":-0.9,"y":59,"s2":-0.8,"y2":59,"e":0.47,"w":0.8},
{"p":"e","s":-0.9,"y":66,"s2":-0.8,"y2":66,"e":0.34,"w":1},

{"p":"f","s":-20,"y":10.8,"s2":-8,"y2":13.5,"e":0.068,"w":1.4},{"p":"f","s":-20.5,"y":10.7,"s2":-20,"y2":10.9,"e":0.25,"w":1.2},{"p":"f","s":-20.5,"y":10.7,"s2":-20.3,"y2":10.8,"e":0.33,"w":0.5},
{"p":"f","s":-20,"y":18.1,"s2":-12,"y2":20,"e":0.06,"w":1.2},{"p":"f","s":-20.5,"y":18.1,"s2":-20.2,"y2":18.2,"e":0.24,"w":1.3},{"p":"f","s":-20.5,"y":18.1,"s2":-20.3,"y2":18.1,"e":0.27,"w":0.5},
{"p":"f","s":-20,"y":25.3,"s2":-4,"y2":28.8,"e":0.078,"w":1.6},{"p":"f","s":-20.5,"y":25.3,"s2":-20.2,"y2":25.4,"e":0.24,"w":1.3},{"p":"f","s":-20.5,"y":25.3,"s2":-20.3,"y2":25.3,"e":0.28,"w":0.5},
{"p":"f","s":-20,"y":33,"s2":-8,"y2":35.6,"e":0.072,"w":1.4},{"p":"f","s":-20.8,"y":33,"s2":-20.4,"y2":33.2,"e":0.24,"w":1.3},{"p":"f","s":-20.8,"y":33,"s2":-20.6,"y2":33.1,"e":0.27,"w":0.5},
{"p":"f","s":-20,"y":40.5,"s2":-4,"y2":44.6,"e":0.085,"w":1.8},{"p":"f","s":-20.5,"y":40.5,"s2":-12,"y2":42.8,"e":0.125,"w":1},{"p":"f","s":-20.8,"y":40.5,"s2":-20.4,"y2":40.6,"e":0.28,"w":1.2},
{"p":"f","s":-20,"y":47.5,"s2":-10,"y2":50,"e":0.062,"w":1.3},{"p":"f","s":-21,"y":47.5,"s2":-20.7,"y2":47.6,"e":0.25,"w":1.1},{"p":"f","s":-21,"y":47.5,"s2":-20.9,"y2":47.5,"e":0.33,"w":0.5},
{"p":"f","s":-20,"y":55.2,"s2":-2,"y2":58,"e":0.085,"w":1.7},{"p":"f","s":-20.5,"y":55.2,"s2":-13,"y2":57,"e":0.125,"w":1},{"p":"f","s":-21,"y":55.2,"s2":-20.5,"y2":55.4,"e":0.27,"w":1.2},
{"p":"f","s":-20,"y":62.8,"s2":-10,"y2":64.8,"e":0.07,"w":1.1},{"p":"f","s":-21,"y":62.8,"s2":-20.6,"y2":63,"e":0.25,"w":1.2},{"p":"f","s":-21,"y":62.8,"s2":-20.8,"y2":62.9,"e":0.33,"w":0.5},
{"p":"f","s":0.5,"y":7,"s2":14,"y2":11,"e":0.072,"w":1.4},{"p":"f","s":0,"y":7,"s2":0.3,"y2":7.1,"e":0.2,"w":1.5},{"p":"f","s":0,"y":7,"s2":0.1,"y2":7,"e":0.47,"w":0.8},
{"p":"f","s":0.5,"y":14.6,"s2":7,"y2":17,"e":0.07,"w":1.2},{"p":"f","s":-0.2,"y":14.6,"s2":0.1,"y2":14.7,"e":0.2,"w":1.5},{"p":"f","s":-0.2,"y":14.6,"s2":-0.1,"y2":14.6,"e":0.47,"w":0.8},
{"p":"f","s":0.5,"y":22.2,"s2":12,"y2":25.3,"e":0.07,"w":1.3},{"p":"f","s":-0.4,"y":22.2,"s2":-0.1,"y2":22.3,"e":0.2,"w":1.5},{"p":"f","s":-0.4,"y":22.2,"s2":-0.3,"y2":22.2,"e":0.47,"w":0.8},
{"p":"f","s":0.5,"y":29.4,"s2":17,"y2":35.5,"e":0.085,"w":1.7},{"p":"f","s":-0.4,"y":29.4,"s2":-0.1,"y2":29.5,"e":0.2,"w":1.5},{"p":"f","s":-0.4,"y":29.4,"s2":-0.3,"y2":29.4,"e":0.47,"w":0.8},
{"p":"f","s":0.5,"y":36.9,"s2":15,"y2":40.8,"e":0.072,"w":1.5},{"p":"f","s":-0.4,"y":36.9,"s2":-0.1,"y2":37,"e":0.2,"w":1.5},{"p":"f","s":-0.4,"y":36.9,"s2":-0.3,"y2":36.9,"e":0.47,"w":0.8},
{"p":"f","s":0.5,"y":44.2,"s2":12,"y2":47.6,"e":0.068,"w":1.3},{"p":"f","s":-0.7,"y":44.2,"s2":-0.4,"y2":44.3,"e":0.2,"w":1.5},{"p":"f","s":-0.7,"y":44.2,"s2":-0.6,"y2":44.2,"e":0.47,"w":0.8},
{"p":"f","s":0.5,"y":51.7,"s2":9,"y2":54,"e":0.075,"w":1.3},{"p":"f","s":-0.7,"y":51.7,"s2":-0.4,"y2":51.8,"e":0.2,"w":1.5},{"p":"f","s":-0.7,"y":51.7,"s2":-0.6,"y2":51.7,"e":0.47,"w":0.8},
{"p":"f","s":0.5,"y":59,"s2":17,"y2":62.2,"e":0.08,"w":1.5},{"p":"f","s":-0.9,"y":59,"s2":-0.6,"y2":59.1,"e":0.2,"w":1.5},{"p":"f","s":-0.9,"y":59,"s2":-0.8,"y2":59,"e":0.47,"w":0.8},
{"p":"f","s":-0.9,"y":66,"s2":-0.8,"y2":66,"e":0.34,"w":1}
]},
"columns":3,
"bounds":"flush",
"spacing":{"column":304,"row":288},
"facet":{"field":"p","type":"nominal","title":"","header":{"title":"","labels":false,"labelExpr":"''","labelFontSize":1,"labelColor":"white","titleFontSize":1,"titleColor":"white"}},
"resolve":{"axis":{"x":"independent","y":"independent"}},
"spec":{
"width":749,"height":389,
"view":{"fill":"#0040f4"},
"encoding":{
"x":{"field":"s","type":"quantitative","scale":{"domain":[-25.9,104.4],"nice":false,"zero":false},
"axis":{"values":[-20,-10,0,10,20,30,40,50,60,70,80,90,100],"labelExpr":"datum.value%50==0?datum.label:''","tickSize":{"condition":{"test":"datum.value%50==0","value":-13},"value":-6},"tickWidth":3,"tickColor":"black","domainColor":"black","domainWidth":5,"grid":false,"labelFontSize":51,"labelColor":"black","labelPadding":22,"labelFlush":false,"labelOverlap":false,"labelBound":false,"title":"S/D","titleFontSize":52,"titleFontStyle":"italic","titleFontWeight":"normal","titleColor":"black","titlePadding":30,"zindex":1}},
"x2":{"field":"s2"},
"y":{"field":"y","type":"quantitative","scale":{"domain":[0,66.2],"nice":false,"zero":false},
"axis":{"values":[0,5,10,15,20,25,30,35,40,45,50,55,60,65],"labelExpr":"datum.value%20==0?datum.label:''","tickSize":{"condition":{"test":"datum.value%20==0","value":-13},"value":-6},"tickWidth":3,"tickColor":"black","domainColor":"black","domainWidth":5,"grid":false,"labelFontSize":51,"labelColor":"black","labelPadding":22,"labelFlush":false,"labelOverlap":false,"labelBound":false,"title":"Y/D","titleFontSize":52,"titleFontStyle":"italic","titleFontWeight":"normal","titleColor":"black","titlePadding":50,"zindex":1}},
"y2":{"field":"y2"}
},
"layer":[
{"transform":[{"filter":"!datum.w && datum.e>0"}],
"mark":{"type":"rect","clip":true},
"encoding":{"color":{"field":"e","type":"quantitative","legend":null,"scale":{"domain":[0,0.05,0.1,0.115,0.19,0.26,0.37,0.43,0.48,0.49,0.5],"range":["#0000ff","#0060ff","#00b8ff","#00ffff","#00ff90","#00ff00","#ffff00","#ff8000","#ff2000","#b00000","#a00000"]}}}},
{"transform":[{"filter":"!datum.w && datum.e>0 && datum.s>=-24 && datum.s<101"}],
"mark":{"type":"rect","clip":true,"filled":false,"strokeWidth":60,"opacity":0.4},
"encoding":{"color":{"field":"e","type":"quantitative"}}},
{"transform":[{"filter":"!datum.w && datum.e>0 && (datum.s<-24 || datum.s>=101)"}],
"mark":{"type":"rect","clip":true},
"encoding":{"color":{"field":"e","type":"quantitative"}}},
{"transform":[{"filter":"datum.w>0 && datum.s2-datum.s>=1.5 && datum.e<0.1"}],
"mark":{"type":"rule","strokeCap":"round","clip":true,"opacity":0.3,"strokeWidth":{"expr":"datum.w*9"},"stroke":{"gradient":"linear","x1":0,"x2":1,"y1":0,"y2":0,"stops":[{"offset":0,"color":"rgba(0,175,255,1)"},{"offset":0.4,"color":"rgba(0,175,255,0.9)"},{"offset":1,"color":"rgba(0,175,255,0)"}]}}},
{"transform":[{"filter":"datum.w>0 && datum.s2-datum.s>=1.5 && datum.e<0.1"}],
"mark":{"type":"rule","strokeCap":"round","clip":true,"opacity":0.55,"strokeWidth":{"expr":"datum.w*5"},"stroke":{"gradient":"linear","x1":0,"x2":1,"y1":0,"y2":0,"stops":[{"offset":0,"color":"rgba(0,185,255,1)"},{"offset":0.4,"color":"rgba(0,185,255,0.9)"},{"offset":1,"color":"rgba(0,185,255,0)"}]}}},
{"transform":[{"filter":"datum.w>0 && datum.s2-datum.s>=1.5 && datum.e>=0.1 && datum.e<0.2"}],
"mark":{"type":"rule","strokeCap":"round","clip":true,"opacity":0.4,"strokeWidth":{"expr":"datum.w*8"},"stroke":{"gradient":"linear","x1":0,"x2":1,"y1":0,"y2":0,"stops":[{"offset":0,"color":"rgba(0,245,240,1)"},{"offset":0.5,"color":"rgba(0,245,240,0.9)"},{"offset":1,"color":"rgba(0,245,240,0)"}]}}},
{"transform":[{"filter":"datum.w>0 && datum.s2-datum.s>=1.5 && datum.e>=0.1 && datum.e<0.2"}],
"mark":{"type":"rule","strokeCap":"round","clip":true,"opacity":0.7,"strokeWidth":{"expr":"datum.w*4.5"},"stroke":{"gradient":"linear","x1":0,"x2":1,"y1":0,"y2":0,"stops":[{"offset":0,"color":"rgba(0,255,220,1)"},{"offset":0.5,"color":"rgba(0,255,220,0.9)"},{"offset":1,"color":"rgba(0,255,220,0)"}]}}},
{"transform":[{"filter":"datum.w>0 && datum.s2-datum.s>=1.5 && datum.e>=0.2 && datum.e<0.3"}],
"mark":{"type":"rule","strokeCap":"round","clip":true,"opacity":0.55,"strokeWidth":{"expr":"datum.w*7.5"},"stroke":{"gradient":"linear","x1":0,"x2":1,"y1":0,"y2":0,"stops":[{"offset":0,"color":"rgba(0,255,110,1)"},{"offset":0.6,"color":"rgba(0,255,110,0.9)"},{"offset":1,"color":"rgba(0,255,110,0)"}]}}},
{"transform":[{"filter":"datum.w>0 && datum.s2-datum.s>=1.5 && datum.e>=0.2 && datum.e<0.3"}],
"mark":{"type":"rule","strokeCap":"round","clip":true,"opacity":0.9,"strokeWidth":{"expr":"datum.w*4"},"stroke":{"gradient":"linear","x1":0,"x2":1,"y1":0,"y2":0,"stops":[{"offset":0,"color":"rgba(40,255,0,1)"},{"offset":0.6,"color":"rgba(40,255,0,0.9)"},{"offset":1,"color":"rgba(40,255,0,0)"}]}}},
{"transform":[{"filter":"datum.w>0 && datum.s2-datum.s<1.5 && datum.e<0.3"}],
"mark":{"type":"rule","strokeCap":"round","clip":true,"opacity":0.55,"strokeWidth":{"expr":"datum.w*9"}},
"encoding":{"color":{"field":"e","type":"quantitative"}}},
{"transform":[{"filter":"datum.w>0 && datum.s2-datum.s<1.5 && datum.e<0.3"}],
"mark":{"type":"rule","strokeCap":"round","clip":true,"strokeWidth":{"expr":"datum.w*5.5"}},
"encoding":{"color":{"field":"e","type":"quantitative"}}},
{"transform":[{"filter":"datum.w>0 && datum.e>=0.3"}],
"mark":{"type":"rule","strokeCap":"round","clip":true,"strokeWidth":{"expr":"datum.w*7.5"}},
"encoding":{"color":{"field":"e","type":"quantitative"}}},
{"transform":[{"filter":"datum.d==1"}],
"mark":{"type":"rule","color":"white","opacity":0.85,"strokeWidth":3.5,"strokeDash":[12,6]}},
{"transform":[{"filter":"datum.d==2"}],
"mark":{"type":"rule","color":"white","opacity":0.85,"strokeWidth":4.5,"strokeDash":[5,4]}},
{"transform":[{"filter":"datum.n"}],
"mark":{"type":"text","font":"Noto Sans CJK SC","fontSize":54,"color":"white"},
"encoding":{"text":{"field":"n"},"x2":null,"y2":null}},
{"transform":[{"filter":"datum.t"}],
"mark":{"type":"text","align":"left","baseline":"alphabetic","fontSize":54,"color":"black"},
"encoding":{"text":{"field":"t"},"x":{"value":259},"y":{"value":610},"x2":null,"y2":null}},
{"transform":[{"filter":"datum.t"}],
"mark":{"type":"text","align":"left","baseline":"alphabetic","fontSize":54,"fontStyle":"italic","color":"black"},
"encoding":{"text":{"value":"B"},"x":{"value":332},"y":{"value":610},"x2":null,"y2":null}},
{"transform":[{"filter":"datum.t"}],
"mark":{"type":"text","align":"left","baseline":"alphabetic","fontSize":54,"color":"black"},
"encoding":{"text":{"field":"v"},"x":{"value":365},"y":{"value":610},"x2":null,"y2":null}}
]
}
}
]
}
